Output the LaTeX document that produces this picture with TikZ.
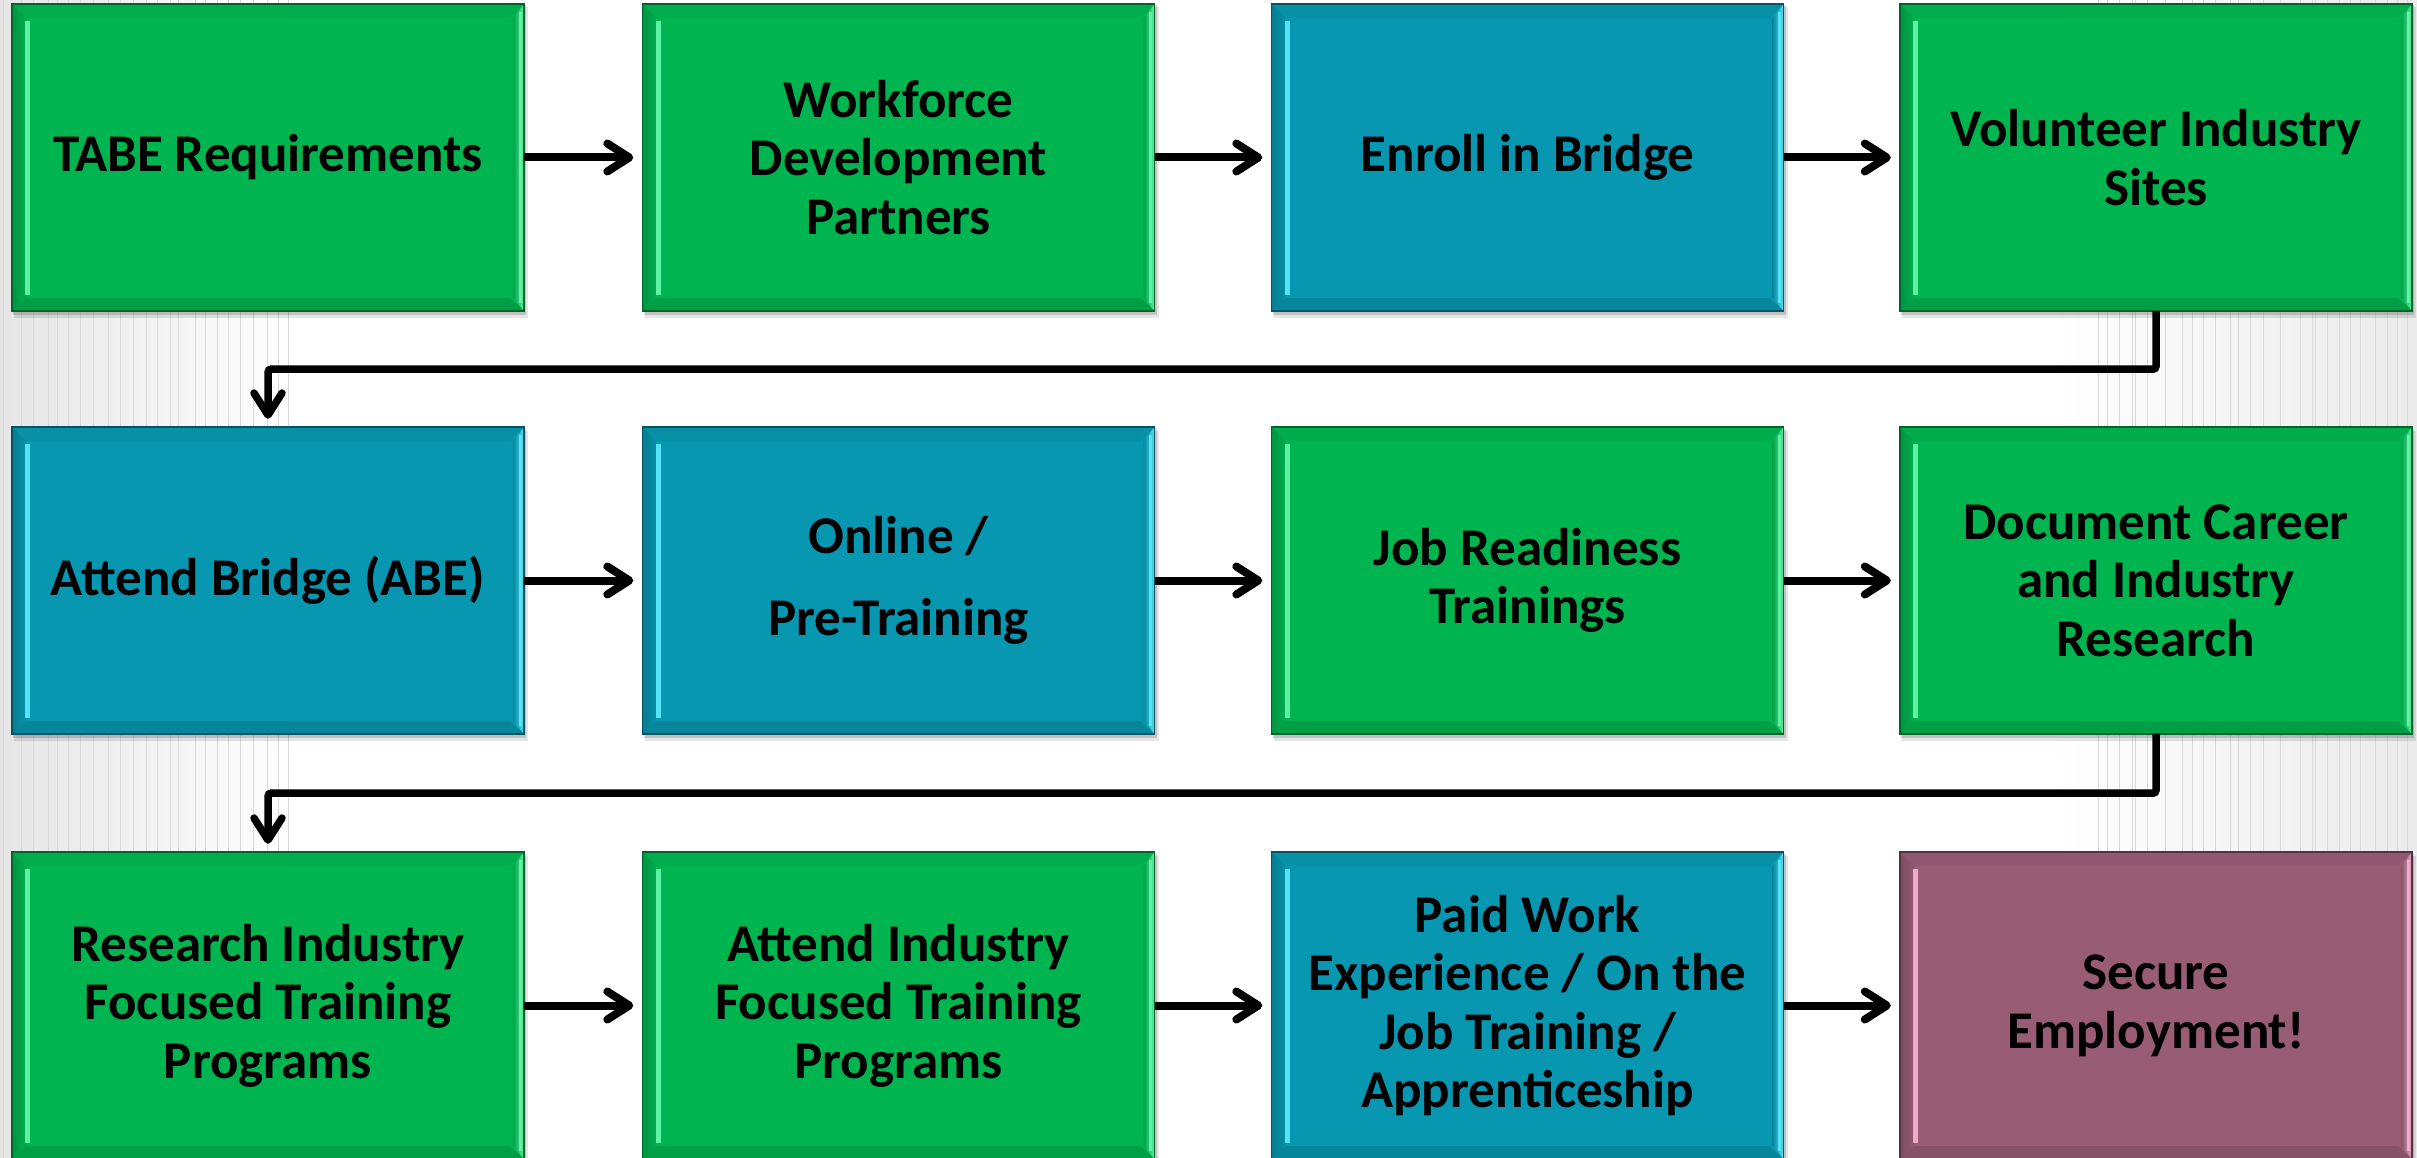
\documentclass[tikz,border=0pt]{standalone}
\usepackage{fontspec}
\setmainfont{Carlito}
\usetikzlibrary{arrows.meta,calc}
\definecolor{bgreen}{RGB}{0,181,80}
\definecolor{bblue}{RGB}{8,151,176}
\definecolor{bpurple}{RGB}{152,93,117}
\definecolor{bgreenhl}{RGB}{95,242,165}
\definecolor{bbluehl}{RGB}{85,228,245}
\definecolor{bpurplehl}{RGB}{238,170,200}
\tikzset{
  flowbox/.style={minimum width=512pt, minimum height=307pt, inner sep=0pt, align=center,
    font=\fontsize{53}{58.6}\selectfont\bfseries, text=black},
  barb/.tip={Straight Barb[length=22pt,width=28pt,line cap=round,line join=round]},
  flowarrow/.style={line width=8pt, -barb, shorten >=9pt},
  elbow/.style={line width=7.5pt, rounded corners=3pt, -barb, shorten >=8pt},
  stripe/.style={gray!30, line width=1pt},
}
\newcommand\flowbox[5]{%
  \fill[black,opacity=0.10] (#2-254,#3-150) rectangle (#2+260,#3+160);
  \fill[black,opacity=0.15] (#2-255,#3-152) rectangle (#2+258,#3+157);
  \node[flowbox, fill=#4] (#1) at (#2,#3) {#5};
  \fill[#4!95!black] (#1.north west) -- (#1.north east) -- ([xshift=-14pt,yshift=-14pt]#1.north east) -- ([xshift=14pt,yshift=-14pt]#1.north west) -- cycle;
  \fill[#4!88!black] (#1.south west) -- (#1.south east) -- ([xshift=-14pt,yshift=13pt]#1.south east) -- ([xshift=14pt,yshift=13pt]#1.south west) -- cycle;
  \shade[left color=#4!82!black, right color=#4!95!black] (#1.north west) -- (#1.south west) -- ([xshift=14pt,yshift=13pt]#1.south west) -- ([xshift=14pt,yshift=-14pt]#1.north west) -- cycle;
  \shade[left color=#4!90!black, right color=#4hl] (#1.north east) -- (#1.south east) -- ([xshift=-11pt,yshift=13pt]#1.south east) -- ([xshift=-11pt,yshift=-14pt]#1.north east) -- cycle;
  \draw[#4hl, line width=3pt] ([xshift=-4pt,yshift=-8pt]#1.north east) -- ([xshift=-4pt,yshift=8pt]#1.south east);
  \draw[#4hl, line width=5pt] ([xshift=16pt,yshift=-17pt]#1.north west) -- ([xshift=16pt,yshift=16pt]#1.south west);
  \draw[#4!55!black, line width=1.5pt] (#1.south west) rectangle (#1.north east);
}
\begin{document}
\begin{tikzpicture}[x=1pt,y=-1pt]
\useasboundingbox (0,0) rectangle (2417,1158);
\clip (0,0) rectangle (2417,1158);
\fill[white] (0,0) rectangle (2417,1158);
\shade[left color=gray!20, right color=white] (0,0) rectangle (295,1158);
\shade[left color=white, right color=gray!16] (2050,0) rectangle (2417,1158);
\foreach \x in {3,21,33,48,57,68,80,93,108,120,133,146,157,170,178,195,205,217,228,240,253,267,278,288}
  \draw[stripe] (\x,0) -- (\x,1158);
\foreach \x in {2098,2107,2119,2132,2135,2147,2165,2182,2192,2203,2215,2230,2238,2250,2263,2280,2300,2312,2315,2327,2339,2350,2360,2375,2387,2397,2407}
  \draw[stripe] (\x,0) -- (\x,1158);

\flowbox{b1}{268}{157.5}{bgreen}{TABE Requirements}
\flowbox{b2}{898.5}{157.5}{bgreen}{Workforce\\Development\\Partners}
\flowbox{b3}{1527.5}{157.5}{bblue}{Enroll in Bridge}
\flowbox{b4}{2156}{157.5}{bgreen}{Volunteer Industry\\Sites}
\flowbox{b5}{268}{580.5}{bblue}{Attend Bridge (ABE)}
\flowbox{b6}{898.5}{580.5}{bblue}{Online /\\[23pt]Pre-Training}
\flowbox{b7}{1527.5}{580.5}{bgreen}{Job Readiness\\Trainings}
\flowbox{b8}{2156}{580.5}{bgreen}{Document Career\\and Industry\\Research}
\flowbox{b9}{268}{1005.5}{bgreen}{Research Industry\\Focused Training\\Programs}
\flowbox{b10}{898.5}{1005.5}{bgreen}{Attend Industry\\Focused Training\\Programs}
\flowbox{b11}{1527.5}{1005.5}{bblue}{Paid Work\\Experience / On the\\Job Training /\\Apprenticeship}
\flowbox{b12}{2156}{1005.5}{bpurple}{Secure\\Employment!}

\draw[flowarrow] (b1) -- (b2);
\draw[flowarrow] (b2) -- (b3);
\draw[flowarrow] (b3) -- (b4);
\draw[flowarrow] (b5) -- (b6);
\draw[flowarrow] (b6) -- (b7);
\draw[flowarrow] (b7) -- (b8);
\draw[flowarrow] (b9) -- (b10);
\draw[flowarrow] (b10) -- (b11);
\draw[flowarrow] (b11) -- (b12);
\draw[elbow] (b4.south) -- ++(0,58) -| (b5.north);
\draw[elbow] (b8.south) -- ++(0,59) -| (b9.north);
\end{tikzpicture}
\end{document}
